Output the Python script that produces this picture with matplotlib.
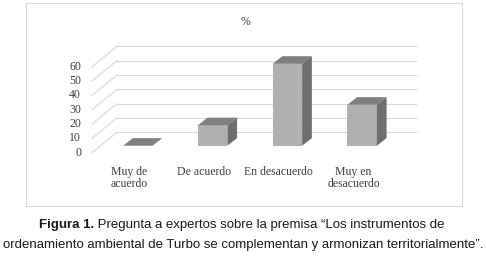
import matplotlib
matplotlib.use("Agg")
import matplotlib.pyplot as plt
from matplotlib.patches import Polygon, Rectangle

# data
categories = ["Muy de\nacuerdo", "De acuerdo", "En desacuerdo", "Muy en\ndesacuerdo"]
values = [0, 14.29, 57.14, 28.57]
yticks = [0, 10, 20, 30, 40, 50, 60]
title = "%"
caption_bold = "Figura 1."
caption_rest = " Pregunta a expertos sobre la premisa \u201cLos instrumentos de"
caption_line2 = "ordenamiento ambiental de Turbo se complementan y armonizan territorialmente\u201d."

W, H = 486, 263
fig = plt.figure(figsize=(W / 100, H / 100), dpi=100)

# chart box in pixels (left, top, right, bottom)
bl, bt, br, bb = 26, 3, 462, 206
ax = fig.add_axes([bl / W, 1 - bb / H, (br - bl) / W, (bb - bt) / H])

# pixel scale: one category = 74.75 px, one value unit = 1.433 px
px_x = 74.75
px_y = 1.433
x_front0 = 92      # pixel of x = -0.5 (front plane left)
y_front0 = 152.7   # pixel of value 0 at front plane
ax.set_xlim(-0.5 - (x_front0 - bl) / px_x, -0.5 + (br - x_front0) / px_x)
ax.set_ylim((y_front0 - bb) / px_y, (y_front0 - bt) / px_y)
ax.set_xticks([])
ax.set_yticks([])
for s in ax.spines.values():
    s.set_color("#d9d9d9")
    s.set_linewidth(0.8)

# oblique depth of the whole chart and of bars
depth_dx = 25 / px_x
depth_dy = 20.4 / px_y
grid_col = "#d9d9d9"
n = len(categories)

# back wall gridlines and diagonal lines on the left wall
for v in yticks:
    ax.plot([-0.5 + depth_dx, n - 0.5 + depth_dx], [v + depth_dy, v + depth_dy],
            color=grid_col, lw=0.8, zorder=1)
    ax.plot([-0.5, -0.5 + depth_dx], [v, v + depth_dy], color=grid_col, lw=0.8, zorder=1)
    ax.text(-0.5 - 11 / px_x, v, str(v), ha="right", va="center",
            fontsize=8.5, family="Liberation Serif", color="#404040")

# bars
bar_w = 29.5 / px_x
front_dx = 8.5 / px_x
front_dy = 7.0 / px_y
bar_dx = 9.7 / px_x
bar_dy = 7.6 / px_y
for i, v in enumerate(values):
    xl = i + front_dx - bar_w / 2
    xr = xl + bar_w
    y0 = front_dy
    top = y0 + v
    ax.bar(xl, v, width=bar_w, bottom=y0, align="edge", color="#b0b0b0",
           edgecolor="none", zorder=3)
    ax.add_patch(Polygon([(xl, top), (xr, top), (xr + bar_dx, top + bar_dy),
                          (xl + bar_dx, top + bar_dy)], closed=True,
                         facecolor="#808080", edgecolor="none", zorder=3))
    if v > 0:
        ax.add_patch(Polygon([(xr, y0), (xr, top), (xr + bar_dx, top + bar_dy),
                              (xr + bar_dx, y0 + bar_dy)], closed=True,
                             facecolor="#6e6e6e", edgecolor="none", zorder=3))

# category labels on the front plane
for i, c in enumerate(categories):
    ax.text(i, (y_front0 - 165.5) / px_y, c, ha="center", va="top", fontsize=8.5,
            family="Liberation Serif", color="#404040", linespacing=1.05)

# title
ax.text(-0.5 + (245 - x_front0) / px_x, (y_front0 - 21.7) / px_y, title,
        ha="center", va="center", fontsize=8.5, family="Liberation Serif",
        color="#404040")

# caption below the chart
cap_fs = 9.5
fig.canvas.draw()
renderer = fig.canvas.get_renderer()
tb = fig.text(39 / W, 1 - 225 / H, caption_bold, fontsize=cap_fs, fontweight="bold",
              family="Liberation Sans", ha="left", va="center", color="#1a1a1a")
bbox = tb.get_window_extent(renderer=renderer)
fig.text(bbox.x1 / W, 1 - 225 / H, caption_rest, fontsize=cap_fs,
         family="Liberation Sans", ha="left", va="center", color="#1a1a1a")
fig.text(0.5, 1 - 245 / H, caption_line2, fontsize=cap_fs,
         family="Liberation Sans", ha="center", va="center", color="#1a1a1a")

fig.savefig("out.png", dpi=100)
